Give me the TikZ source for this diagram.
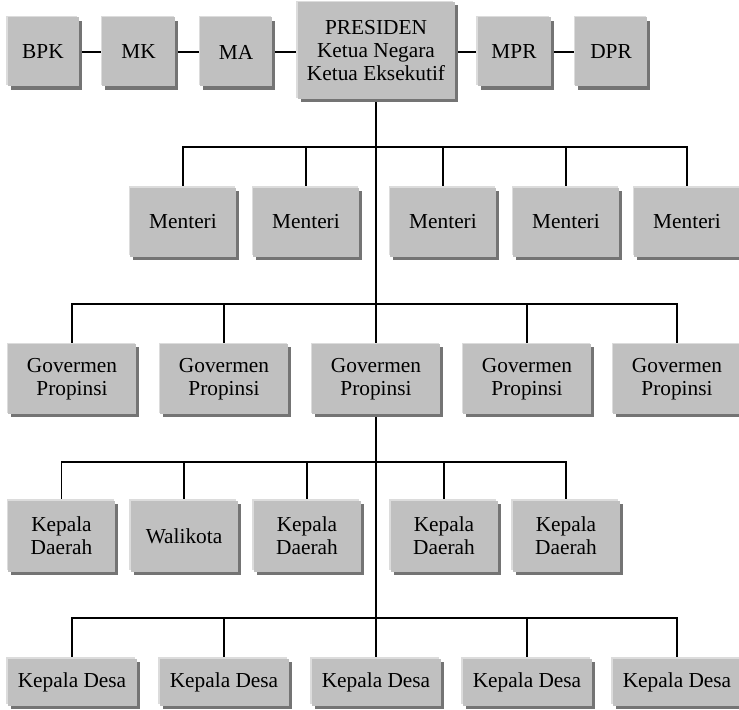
\documentclass[tikz,border=0pt]{standalone}
\usepackage{fontspec}
\setmainfont{Liberation Serif}
\usetikzlibrary{shadows,backgrounds}
\definecolor{boxfill}{HTML}{C0C0C0}
\definecolor{boxlight}{HTML}{DCDCDC}
\definecolor{boxshade}{HTML}{747474}
\tikzset{
  orgbox/.style={fill=boxfill, inner sep=0pt, align=center,
    font=\fontsize{16}{17}\selectfont,
    general shadow={shadow xshift=-1.1pt, shadow yshift=1.1pt, fill=boxlight},
    general shadow={shadow xshift=2.3pt, shadow yshift=-2.3pt, fill=boxshade}},
  sz/.style 2 args={minimum width=#1*0.75pt, minimum height=#2*0.75pt},
  link/.style={line width=1.35pt, black},
}
\begin{document}
\begin{tikzpicture}[x=0.75pt, y=-0.75pt]
\useasboundingbox (0,0) rectangle (739,710);

% top row
\node[orgbox, sz={71}{69}] (bpk) at (43,52) {BPK};
\node[orgbox, sz={73}{69}] (mk) at (138.5,52) {MK};
\node[orgbox, sz={72}{69}] (ma) at (236,52) {MA};
\node[orgbox, sz={157}{97}] (pres) at (376,50.5) {PRESIDEN\\Ketua Negara\\Ketua Eksekutif};
\node[orgbox, sz={73}{69}] (mpr) at (514,52) {MPR};
\node[orgbox, sz={72}{69}] (dpr) at (611,52) {DPR};

% ministers
\foreach \i/\x in {1/183, 2/306, 3/443, 4/566, 5/687}
  \node[orgbox, sz={106}{69}] (m\i) at (\x,222) {Menteri};

% provincial governments
\foreach \i/\x in {1/72, 2/224, 3/376, 4/527, 5/677}
  \node[orgbox, sz={128}{70}] (g\i) at (\x,379) {Govermen\\Propinsi};

% regional heads
\node[orgbox, sz={107}{71}] (k1) at (61.5,536) {Kepala\\Daerah};
\node[orgbox, sz={107}{71}] (k2) at (184,536) {Walikota};
\node[orgbox, sz={107}{71}] (k3) at (307,536) {Kepala\\Daerah};
\node[orgbox, sz={107}{71}] (k4) at (444,536) {Kepala\\Daerah};
\node[orgbox, sz={107}{71}] (k5) at (566,536) {Kepala\\Daerah};

% village heads
\foreach \i/\x in {1/72, 2/224, 3/376, 4/527, 5/677}
  \node[orgbox, sz={129}{47}] (d\i) at (\x,682) {Kepala Desa};

% bus junctions on the trunk
\coordinate (bm) at (376,147);
\coordinate (bg) at (376,304);
\coordinate (bk) at (376,462);
\coordinate (bd) at (376,618);

\begin{scope}[on background layer]
  \draw[link] (bpk) -- (mk);
  \draw[link] (mk) -- (ma);
  \draw[link] (ma) -- (ma -| pres.west);
  \draw[link] (pres.east |- mpr) -- (mpr);
  \draw[link] (mpr) -- (dpr);

  % trunk
  \draw[link] (pres.south) -- (g3.north);
  \draw[link] (g3.south) -- (d3.north);

  % ministers
  \draw[link] (m1.north) |- (bm) -| (m5.north);
  \foreach \i in {2,3,4} \draw[link] (m\i.north) -- (m\i.north |- bm);

  % provinces
  \draw[link] (g1.north) |- (bg) -| (g5.north);
  \foreach \i in {2,4} \draw[link] (g\i.north) -- (g\i.north |- bg);

  % regional heads
  \draw[link] (k1.north) |- (bk) -| (k5.north);
  \foreach \i in {2,3,4} \draw[link] (k\i.north) -- (k\i.north |- bk);

  % village heads
  \draw[link] (d1.north) |- (bd) -| (d5.north);
  \foreach \i in {2,4} \draw[link] (d\i.north) -- (d\i.north |- bd);
\end{scope}
\end{tikzpicture}
\end{document}
